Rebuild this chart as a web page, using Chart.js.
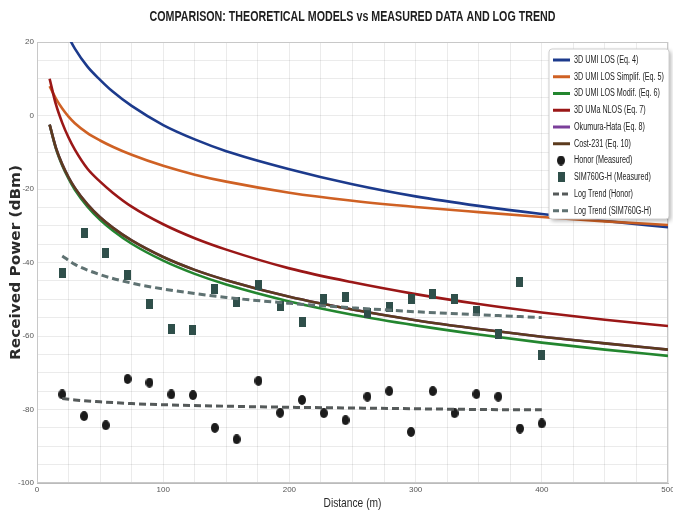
<!DOCTYPE html>
<html>
<head>
<meta charset="utf-8">
<script src="https://cdn.jsdelivr.net/npm/chart.js@4.4.0/dist/chart.umd.min.js"></script>
<style>
html, body { margin: 0; padding: 0; background: #fff; }
</style>
</head>
<body>
<canvas id="c" width="673" height="510"></canvas>
<script>
const modelDist = [10, 15, 20, 25, 30, 40, 50, 60, 75, 100, 125, 150, 200, 250, 300, 350, 400, 450, 500]
const umiLos      = [37.6, 30.4, 25.3, 21.4, 18.2, 13.3, 9.7, 6.5, 2.6, -2.6, -6.5, -9.7, -14.6, -18.7, -22.0, -24.6, -26.8, -28.7, -30.4]
const umiLosSimp  = [8.0, 4.6, 1.9, -0.3, -2.1, -4.8, -6.8, -8.5, -10.7, -13.7, -16.1, -18.0, -21.0, -23.2, -24.9, -26.3, -27.6, -28.8, -29.8]
const umiLosModif = [-2.5, -9.0, -13.6, -17.2, -20.2, -24.8, -28.4, -31.3, -34.9, -39.5, -43.1, -46.0, -50.6, -54.2, -57.1, -59.6, -61.8, -63.7, -65.4]
const umaNlos     = [10.0, 3.0, -2.0, -6.0, -9.3, -14.5, -18.0, -21.0, -24.8, -29.6, -33.4, -36.5, -41.6, -45.4, -48.6, -51.3, -53.6, -55.6, -57.3]
const okumuraHata = [-2.5, -8.8, -13.3, -16.8, -19.7, -24.2, -27.7, -30.5, -34.0, -38.5, -42.0, -44.8, -49.3, -52.8, -55.7, -58.1, -60.2, -62.0, -63.7]
const cost231     = [-2.5, -8.8, -13.3, -16.8, -19.7, -24.2, -27.7, -30.5, -34.0, -38.5, -42.0, -44.8, -49.3, -52.8, -55.7, -58.1, -60.2, -62.0, -63.7]

// measured points
const measDist = [20, 37.3, 54.5, 71.8, 89.1, 106.4, 123.6, 140.9, 158.2, 175.5, 192.7, 210, 227.3, 244.5, 261.8, 279.1, 296.4, 313.6, 330.9, 348.2, 365.5, 382.7, 400]
const honor  = [-75.9, -81.8, -84.3, -71.7, -72.7, -75.9, -76.1, -85.0, -88.1, -72.2, -80.9, -77.4, -81.0, -82.9, -76.5, -75.0, -86.1, -75.0, -81.0, -75.8, -76.5, -85.2, -83.8]
const sim760 = [-42.8, -32.1, -37.5, -43.5, -51.4, -58.0, -58.3, -47.3, -50.7, -46.2, -51.8, -56.3, -49.9, -49.5, -53.8, -52.0, -50.0, -48.7, -50.0, -53.1, -59.5, -45.2, -65.2]

// log trend lines
const trendDist = [20, 30, 50, 75, 100, 150, 200, 250, 300, 350, 400]
const honorTrend = [-77.0, -77.4, -77.9, -78.4, -78.7, -79.1, -79.4, -79.6, -79.8, -80.0, -80.1]
const simTrend   = [-38.2, -40.5, -43.3, -45.6, -47.2, -49.5, -51.1, -52.3, -53.4, -54.2, -55.0]

const xTicks = [0, 100, 200, 300, 400, 500]
const yTicks = [20, 0, -20, -40, -60, -80, -100]

const titleText = 'COMPARISON: THEORETICAL MODELS vs MEASURED DATA AND LOG TREND'
const xTitle = 'Distance (m)'
const yTitle = 'Received Power (dBm)'

const sans = "'Liberation Sans', Arial, sans-serif"

function pts(xs, ys){
    return xs.map((x, i) => ({x: x, y: ys[i]}))
}

function marker(w, h, shape, color){
    const c = document.createElement('canvas')
    c.width = w
    c.height = h
    const g = c.getContext('2d')
    g.fillStyle = color
    if(shape == 'ellipse'){
        g.beginPath()
        g.ellipse(w / 2, h / 2, w / 2, h / 2, 0, 0, Math.PI * 2)
        g.fill()
    } else {
        g.fillRect(0, 0, w, h)
    }
    return c
}

const honorMark = marker(8, 10, 'ellipse', '#1b1b1b')
const simMark = marker(7, 10, 'rect', '#2f4f4a')

function curve(label, color, values){
    return {
        label: label,
        kind: 'line',
        data: pts(modelDist, values),
        borderColor: color,
        backgroundColor: color,
        borderWidth: 2.6,
        pointRadius: 0,
        showLine: true,
        cubicInterpolationMode: 'monotone',
    }
}

const datasets = [
    curve('3D UMI LOS (Eq. 4)', '#1c3a8c', umiLos),
    curve('3D UMI LOS Simplif. (Eq. 5)', '#cf6124', umiLosSimp),
    curve('3D UMI LOS Modif. (Eq. 6)', '#23862f', umiLosModif),
    curve('3D UMa NLOS (Eq. 7)', '#9a1717', umaNlos),
    curve('Okumura-Hata (Eq. 8)', '#7b3f9a', okumuraHata),
    curve('Cost-231 (Eq. 10)', '#5c3b1e', cost231),
    {
        label: 'Honor (Measured)',
        kind: 'mark',
        data: pts(measDist, honor),
        pointStyle: honorMark,
        showLine: false,
    },
    {
        label: 'SIM760G-H (Measured)',
        kind: 'mark',
        data: pts(measDist, sim760),
        pointStyle: simMark,
        showLine: false,
    },
    {
        label: 'Log Trend (Honor)',
        kind: 'dash',
        data: pts(trendDist, honorTrend),
        borderColor: '#555a5a',
        borderWidth: 3,
        borderDash: [7, 4],
        pointRadius: 0,
        showLine: true,
        cubicInterpolationMode: 'monotone',
    },
    {
        label: 'Log Trend (SIM760G-H)',
        kind: 'dash',
        data: pts(trendDist, simTrend),
        borderColor: '#5f7272',
        borderWidth: 3,
        borderDash: [7, 4],
        pointRadius: 0,
        showLine: true,
        cubicInterpolationMode: 'monotone',
    },
]
// later entries drawn on top
datasets.forEach((ds, i) => { ds.order = datasets.length - i })

// the original uses a narrow face that is not installed, so squeeze text horizontally
function squeeze(ctx, text, x, y, sx){
    ctx.save()
    ctx.translate(x, y)
    ctx.scale(sx, 1)
    ctx.fillText(text, 0, 0)
    ctx.restore()
}
function fitWidth(ctx, text, width){
    return width / ctx.measureText(text).width
}

const frame = {
    id: 'frame',
    beforeDatasetsDraw(chart){
        const a = chart.chartArea
        const ctx = chart.ctx
        ctx.save()
        ctx.strokeStyle = '#c8c8c8'
        ctx.lineWidth = 1
        ctx.strokeRect(a.left + 0.5, a.top + 0.5, a.right - a.left - 1, a.bottom - a.top - 1)
        ctx.restore()
    }
}

const titles = {
    id: 'titles',
    afterDraw(chart){
        const ctx = chart.ctx
        const a = chart.chartArea
        const cx = (a.left + a.right) / 2
        ctx.save()
        ctx.textAlign = 'center'
        ctx.textBaseline = 'middle'
        ctx.fillStyle = '#1e1e1e'
        ctx.font = 'bold 14px ' + sans
        squeeze(ctx, titleText, cx, 17, fitWidth(ctx, titleText, 406))
        ctx.fillStyle = '#2a2a2a'
        ctx.font = '13px ' + sans
        squeeze(ctx, xTitle, cx, 503, fitWidth(ctx, xTitle, 58))
        ctx.font = "bold 14px 'DejaVu Sans', " + sans
        const sy = fitWidth(ctx, yTitle, 195)
        ctx.translate(16, (a.top + a.bottom) / 2)
        ctx.rotate(-Math.PI / 2)
        squeeze(ctx, yTitle, 0, 0, sy)
        ctx.restore()
    }
}

const boxLegend = {
    id: 'boxLegend',
    afterDraw(chart){
        const ctx = chart.ctx
        const x0 = 549, y0 = 49, w = 120, h = 170
        ctx.save()
        ctx.shadowColor = 'rgba(0,0,0,0.3)'
        ctx.shadowBlur = 4
        ctx.shadowOffsetX = 2
        ctx.shadowOffsetY = 2
        ctx.beginPath()
        ctx.roundRect(x0, y0, w, h, 3)
        ctx.fillStyle = '#ffffff'
        ctx.fill()
        ctx.shadowColor = 'transparent'
        ctx.strokeStyle = '#cfcfcf'
        ctx.lineWidth = 1
        ctx.stroke()
        ctx.font = '10px ' + sans
        ctx.textBaseline = 'middle'
        // widest label is about 90px wide in the original
        const sx = fitWidth(ctx, datasets[1].label, 90)
        chart.data.datasets.forEach((ds, i) => {
            const y = y0 + 11 + i * 16.75
            if(ds.kind == 'mark'){
                const m = ds.pointStyle
                ctx.drawImage(m, 561 - m.width / 2, y - m.height / 2)
            } else {
                ctx.beginPath()
                ctx.strokeStyle = ds.borderColor
                ctx.lineWidth = 3
                ctx.setLineDash(ds.kind == 'dash' ? [6, 3] : [])
                ctx.moveTo(553, y)
                ctx.lineTo(570, y)
                ctx.stroke()
                ctx.setLineDash([])
            }
            ctx.fillStyle = '#222'
            squeeze(ctx, ds.label, 574, y, sx)
        })
        ctx.restore()
    }
}

new Chart(document.getElementById('c'), {
    type: 'scatter',
    data: {datasets: datasets},
    plugins: [frame, titles, boxLegend],
    options: {
        responsive: false,
        animation: false,
        events: [],
        layout: {padding: {left: 0, right: 4, top: 42, bottom: 0}},
        plugins: {
            legend: {display: false},
            tooltip: {enabled: false},
            title: {display: false},
        },
        scales: {
            x: {
                type: 'linear',
                min: 0,
                max: 500,
                afterFit(scale){ scale.height = 27; scale.paddingRight = 0; scale.paddingLeft = 0 },
                ticks: {
                    stepSize: 25,
                    autoSkip: false,
                    maxRotation: 0,
                    color: '#555',
                    padding: 2,
                    font: {family: sans, size: 8},
                    callback: v => xTicks.includes(v) ? String(v) : '',
                },
                grid: {color: 'rgba(0,0,0,0.08)', drawTicks: false},
                border: {color: '#bbb'},
            },
            y: {
                type: 'linear',
                min: -100,
                max: 20,
                afterFit(scale){ scale.width = 37; scale.paddingTop = 0; scale.paddingBottom = 0 },
                ticks: {
                    stepSize: 5,
                    autoSkip: false,
                    color: '#555',
                    padding: 3,
                    font: {family: sans, size: 8},
                    callback: v => yTicks.includes(v) ? String(v) : '',
                },
                grid: {color: 'rgba(0,0,0,0.08)', drawTicks: false},
                border: {color: '#bbb'},
            },
        },
    },
})
</script>
</body>
</html>
